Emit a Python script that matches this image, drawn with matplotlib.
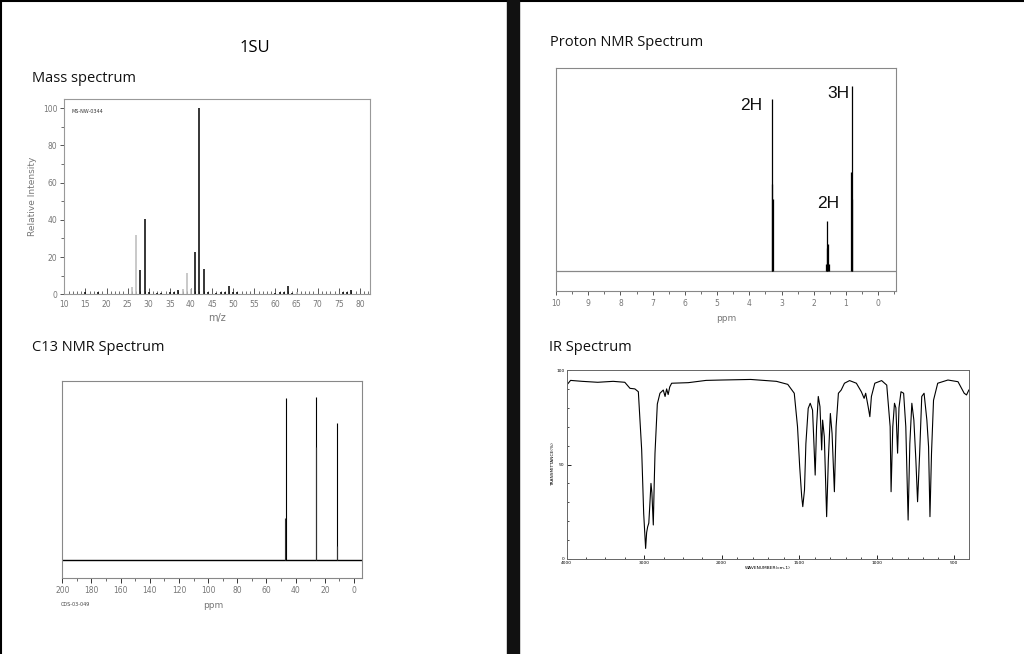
import matplotlib
matplotlib.use("Agg")
import matplotlib.pyplot as plt
from matplotlib.patches import Rectangle
from matplotlib.lines import Line2D
from matplotlib.ticker import MultipleLocator, FixedLocator
import numpy as np

W, H = 1024, 654

# mass spectrum (m/z, relative intensity)
ms_mz = [15, 18, 26, 27, 28, 29, 30, 32, 33, 35, 36, 37, 38, 39, 40, 41, 42, 43, 44,
         46, 47, 48, 49, 50, 51, 60, 61, 62, 63, 64, 65, 76, 77, 78]
ms_int = [1.5, 1.2, 4, 32, 13, 40.5, 1, 0.8, 0.8, 1, 1.5, 2.5, 3, 11.5, 3, 23, 100, 13.5, 1,
          0.8, 1, 1, 4.5, 1, 1.5, 0.8, 1, 1, 4.5, 0.8, 1.2, 1, 1, 2.5]
ms_gray = [26, 27, 38, 39, 40, 65]

# C13 NMR
c13_ppm = [46.6, 25.8, 11.4]
c13_height = [0.904, 0.91, 0.768]
c13_inner = [0.238, 0.634, 0.082]

# proton NMR lines
h1_ppm = [3.31, 3.295, 3.28, 1.625, 1.605, 1.585, 1.565, 1.545, 0.848, 0.828, 0.808]
h1_height = [0.43, 0.848, 0.354, 0.035, 0.11, 0.247, 0.132, 0.035, 0.489, 0.913, 0.354]
h1_labels = ["2H", "3H", "2H"]

# IR spectrum (wavenumber, %T)
ir_wn = [4000, 3950, 3800, 3600, 3400, 3250, 3183, 3120, 3075, 3032, 3006, 2981, 2968, 2955,
         2940, 2925, 2912, 2900, 2882, 2870, 2860, 2830, 2796, 2753, 2730, 2710, 2690, 2670,
         2645, 2430, 2200, 2000, 1812, 1646, 1573, 1531, 1510, 1496, 1483, 1476, 1465, 1456,
         1441, 1428, 1413, 1404, 1396, 1387, 1376, 1365, 1354, 1348, 1337, 1322, 1311, 1298,
         1287, 1272, 1261, 1246, 1228, 1207, 1174, 1130, 1098, 1080, 1070, 1054, 1043, 1033,
         1011, 967, 934, 912, 906, 895, 884, 875, 864, 855, 842, 825, 811, 796, 785, 772, 759,
         746, 735, 722, 708, 693, 675, 664, 655, 645, 632, 605, 539, 474, 434, 419, 404]
ir_t = [92, 94.5, 94, 93.5, 94, 93.5, 90.3, 90, 88.5, 57.7, 24, 5.6, 14, 17,
        19, 30, 40, 35, 18, 40, 56, 82, 87.7, 89.4, 86, 90, 87, 91,
        93, 93.3, 94.5, 94.7, 95, 94, 92.4, 87.7, 70, 48.9, 33, 27.7, 36.5, 61,
        79.7, 82.4, 78.8, 61, 44.4, 70, 86, 80.6, 57.7, 73.5, 64.7, 22.4, 52.4, 77,
        66.5, 35.6, 70, 87.7, 89.4, 93, 94.4, 93, 88.5, 85, 87.7, 80.6, 75.3, 86,
        93, 94.4, 92, 70, 35.6, 70, 82.4, 80, 56, 80, 88.5, 87.7, 70, 20.6, 61, 82.4, 73.5,
        52.4, 30.3, 55, 86, 87.7, 73.5, 59.4, 22.4, 56, 84, 93, 94.7, 93.8, 87.7, 86.8, 89.4]


def box(x0, y0, x1, y1):
    return [x0 / W, 1 - y1 / H, (x1 - x0) / W, (y1 - y0) / H]


def ftext(x, y, s, **kw):
    fig.text(x / W, 1 - y / H, s, **kw)


fig = plt.figure(figsize=(W / 100, H / 100), dpi=100)
head = dict(family="Open Sans", fontsize=10.5, color="#111111", va="baseline")
tick_gray = "#777777"

# headings
ftext(255, 51.5, "1SU", family="Open Sans", fontsize=12, ha="center", va="baseline")
ftext(32, 82.3, "Mass spectrum", **head)
ftext(32.5, 350.7, "C13 NMR Spectrum", **head)
ftext(550, 45.7, "Proton NMR Spectrum", **head)
ftext(549, 350.7, "IR Spectrum", **head)

# ---- mass spectrum
ax = fig.add_axes(box(64.3, 99, 370, 294.3))
colors = ["#bbbbbb" if m in ms_gray else "black" for m in ms_mz]
ax.vlines(ms_mz, 0, ms_int, colors=colors, lw=1.1)
ax.set_xlim(10, 82.4)
ax.set_ylim(0, 105)
ax.xaxis.set_major_locator(MultipleLocator(5))
ax.xaxis.set_minor_locator(MultipleLocator(1))
ax.yaxis.set_major_locator(MultipleLocator(20))
ax.yaxis.set_minor_locator(MultipleLocator(10))
ax.tick_params(axis="x", which="major", direction="in", length=4, width=0.7, color="#555555",
               labelsize=5.5, labelcolor=tick_gray, pad=4)
ax.tick_params(axis="x", which="minor", direction="in", length=2.5, width=0.6, color="#555555")
ax.tick_params(axis="y", which="major", direction="out", length=3, width=0.7, color="#555555",
               labelsize=5.5, labelcolor=tick_gray, pad=2)
ax.tick_params(axis="y", which="minor", direction="out", length=2, width=0.6, color="#555555")
for s in ax.spines.values():
    s.set_color("#999999")
    s.set_linewidth(0.8)
ax.set_xlabel("m/z", fontsize=7, color=tick_gray, labelpad=3)
ax.set_ylabel("Relative Intensity", fontsize=6.5, color=tick_gray, labelpad=4)
ax.text(0.025, 0.95, "MS-NW-0344", transform=ax.transAxes, fontsize=3.5, color="#333333",
        va="top")

# ---- C13 NMR
ax = fig.add_axes(box(62.3, 381, 362.3, 578.3))
ax.axhline(0, color="black", lw=1.0)
ax.vlines(c13_ppm, 0, c13_height, colors="black", lw=0.8)
ax.vlines(np.array(c13_ppm) + 0.5, 0, c13_inner, colors="#333333", lw=0.8)
ax.set_xlim(200, -5.7)
ax.set_ylim(-0.1, 1.0)
ax.set_yticks([])
ax.xaxis.set_major_locator(MultipleLocator(20))
ax.xaxis.set_minor_locator(MultipleLocator(10))
ax.tick_params(axis="x", which="major", direction="out", length=3.5, width=0.7, color="#333333",
               labelsize=5.5, labelcolor=tick_gray, pad=2)
ax.tick_params(axis="x", which="minor", direction="out", length=2, width=0.6, color="#555555")
for s in ax.spines.values():
    s.set_color("#888888")
    s.set_linewidth(0.8)
ftext(213, 606, "ppm", fontsize=6.5, color=tick_gray, ha="center", va="center")
ftext(61, 604, "CDS-03-049", fontsize=3.5, color="#444444", va="center")

# ---- proton NMR
ax = fig.add_axes(box(556, 68.3, 895.7, 290.7))
ax.axhline(0, color="#888888", lw=0.9)
ax.vlines(h1_ppm, 0, h1_height, colors="black", lw=0.9)
ax.set_xlim(10, -0.54)
ax.set_ylim(-0.099, 1.0)
ax.set_yticks([])
ax.xaxis.set_major_locator(MultipleLocator(1))
ax.xaxis.set_minor_locator(MultipleLocator(0.5))
ax.tick_params(axis="x", which="major", direction="out", length=3, width=0.7, color="#555555",
               labelsize=5.5, labelcolor=tick_gray, pad=3)
ax.tick_params(axis="x", which="minor", direction="out", length=2, width=0.6, color="#555555")
for s in ax.spines.values():
    s.set_color("#888888")
    s.set_linewidth(0.8)
ax.set_xlabel("ppm", fontsize=6.5, color=tick_gray, labelpad=4)
lab = dict(family="Liberation Sans", fontsize=12.5, ha="center", va="center", color="#111111")
ax.text(3.95, 0.815, h1_labels[0], **lab)
ax.text(1.25, 0.875, h1_labels[1], **lab)
ax.text(1.56, 0.33, h1_labels[2], **lab)


# ---- IR spectrum (scale doubles below 2000 cm-1)
def ir_fwd(w):
    w = np.asarray(w, dtype=float)
    return np.where(w >= 2000, w, 2 * w - 2000)


def ir_inv(u):
    u = np.asarray(u, dtype=float)
    return np.where(u >= 2000, u, (u + 2000) / 2)


ax = fig.add_axes(box(566.7, 370, 969, 559))
ax.set_xscale("function", functions=(ir_fwd, ir_inv))
ax.plot(ir_wn, ir_t, color="black", lw=0.8)
ax.set_xlim(4000, 403)
ax.set_ylim(0, 100)
ax.xaxis.set_major_locator(FixedLocator([4000, 3000, 2000, 1500, 1000, 500]))
ax.xaxis.set_minor_locator(FixedLocator([3750, 3500, 3250, 2750, 2500, 2250] +
                                        list(range(1900, 400, -100))))
ax.yaxis.set_major_locator(FixedLocator([0, 50, 100]))
ax.yaxis.set_minor_locator(MultipleLocator(10))
ax.tick_params(which="major", direction="in", length=3, width=0.6, labelsize=3.2, pad=1.5)
ax.tick_params(which="minor", direction="in", length=1.5, width=0.5)
for s in ax.spines.values():
    s.set_color("#666666")
    s.set_linewidth(0.7)
ax.set_xlabel("WAVENUMBER(cm-1)", fontsize=3.2, labelpad=0.5)
ax.set_ylabel("TRANSMITTANCE(%)", fontsize=3.2, labelpad=1)

# page divider and page edges
fig.patches.append(Rectangle((507 / W, 0), 12 / W, 1, transform=fig.transFigure,
                             color="#111111", zorder=5))
fig.lines.append(Line2D([0, 1], [0.999, 0.999], transform=fig.transFigure, color="black", lw=1.5))
fig.lines.append(Line2D([0.001, 0.001], [0, 1], transform=fig.transFigure, color="black", lw=1.5))

fig.savefig("out.png", dpi=100)
